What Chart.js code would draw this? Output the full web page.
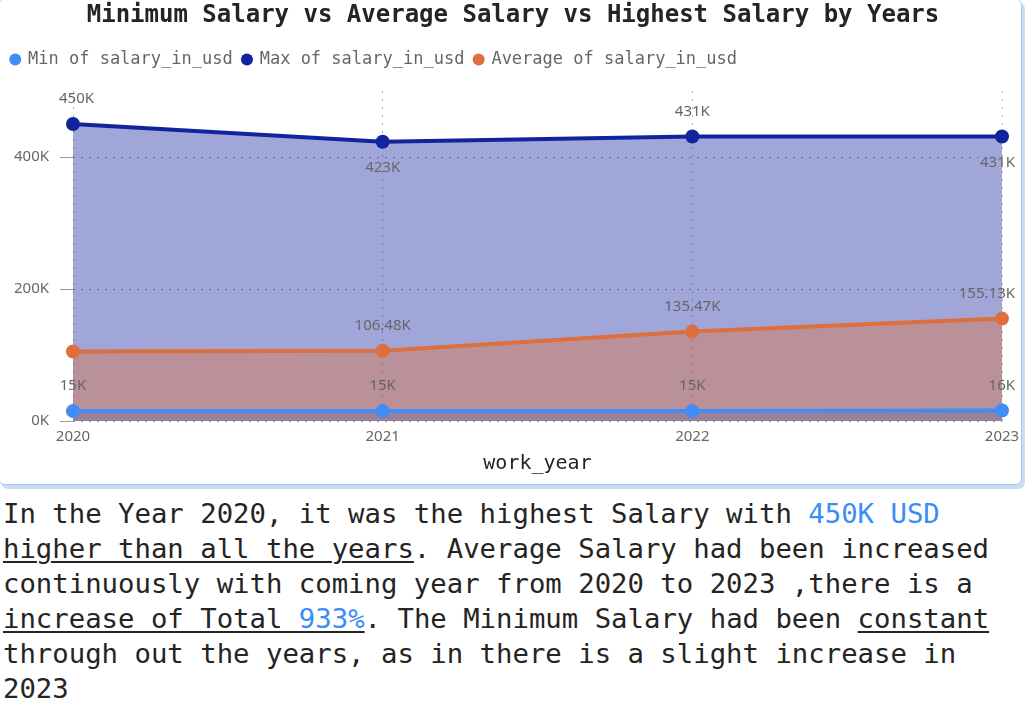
<!DOCTYPE html>
<html>
<head>
<meta charset="utf-8">
<script src="https://cdn.jsdelivr.net/npm/chart.js@4.4.1/dist/chart.umd.min.js"></script>
<style>
    html, body { margin: 0; padding: 0; background: #fff; }
    body { width: 1029px; height: 716px; position: relative; overflow: hidden; }
    #card {
        position: absolute; left: -2px; top: -2px; width: 1024px; height: 487px;
        border: 1px solid #a9c9ef; border-radius: 7px; background: #fff;
        box-shadow: 3px 4px 0 0 #cadcf3; box-sizing: border-box;
    }
    #card canvas { position: absolute; left: 2px; top: 2px; }
    #note {
        position: absolute; left: 3px; top: 496px; margin: 0;
        font-family: "DejaVu Sans Mono", monospace; font-size: 27.3px; line-height: 35px;
        color: #252423; white-space: nowrap;
    }
    #note .hl { color: #3a8cf6; }
    #note u { text-decoration-thickness: 2px; text-underline-offset: 3px; }
</style>
</head>
<body>
<div id="card"><canvas id="js-chartjs-salary" width="1020" height="484"></canvas></div>
<p id="note">In the Year 2020, it was the highest Salary with <span class="hl">450K USD</span><br><u>higher than all the years</u>. Average Salary had been increased<br>continuously with coming year from 2020 to 2023 ,there is a<br><u>increase of Total <span class="hl">933%</span></u>. The Minimum Salary had been <u>constant</u><br>through out the years, as in there is a slight increase in<br>2023</p>
<script>
    const years = ["2020", "2021", "2022", "2023"];
    const minSalary = [15000, 15000, 15000, 16000];
    const maxSalary = [450000, 423000, 431000, 431000];
    const avgSalary = [105400, 106480, 135470, 155130];
    const minLabels = ["15K", "15K", "15K", "16K"];
    const maxLabels = ["450K", "423K", "431K", "431K"];
    const avgLabels = [null, "106.48K", "135.47K", "155.13K"];
    const yTicks = [0, 200000, 400000];
    const chartTitle = "Minimum Salary vs Average Salary vs Highest Salary by Years";

    const mono = "'DejaVu Sans Mono', monospace";
    const sans = "'Noto Sans', 'Open Sans', sans-serif";

    // title centred on the whole card, not on the padded box
    const cardTitle = {
        id: "cardTitle",
        beforeInit(chart) {
            // a bit more room under the legend
            const fit = chart.legend.fit;
            chart.legend.fit = function () {
                fit.call(this);
                this.height += 13;
            };
        },
        afterDraw(chart) {
            const ctx = chart.ctx;
            ctx.save();
            ctx.font = "bold 24px " + mono;
            ctx.fillStyle = "#252423";
            ctx.textAlign = "center";
            ctx.textBaseline = "middle";
            ctx.fillText(chartTitle, 512, 15);
            ctx.restore();
        }
    };

    // labels next to the points, like the original data labels
    const pointLabels = {
        id: "pointLabels",
        afterDatasetsDraw(chart) {
            const ctx = chart.ctx;
            const area = chart.chartArea;
            ctx.save();
            ctx.font = "15px " + sans;
            ctx.fillStyle = "#666";
            ctx.textBaseline = "middle";
            chart.data.datasets.forEach((ds, di) => {
                const meta = chart.getDatasetMeta(di);
                ds.valueLabels.forEach((txt, i) => {
                    if (!txt) return;
                    const pt = meta.data[i];
                    const w = ctx.measureText(txt).width;
                    let x = pt.x - w / 2;
                    x = Math.max(area.left - 14, Math.min(x, area.right + 13 - w));
                    const y = ds.labelPlace[i] === "below" ? pt.y + 26 : pt.y - 25;
                    ctx.fillText(txt, x, y);
                });
            });
            ctx.restore();
        }
    };

    let o = document.getElementById("js-chartjs-salary");
    let n = new Chart(o, {
        type: "line",
        data: {
            labels: years,
            datasets: [{
                label: "Min of salary_in_usd",
                data: minSalary,
                valueLabels: minLabels,
                labelPlace: ["above", "above", "above", "above"],
                borderColor: "#418df7",
                pointBackgroundColor: "#418df7",
                backgroundColor: "rgb(154, 128, 152)",
                fill: "origin",
                order: 0
            }, {
                label: "Max of salary_in_usd",
                data: maxSalary,
                valueLabels: maxLabels,
                labelPlace: ["above", "below", "above", "below"],
                borderColor: "#12239e",
                pointBackgroundColor: "#12239e",
                backgroundColor: "rgba(18, 35, 158, .4)",
                fill: "origin",
                order: 2
            }, {
                label: "Average of salary_in_usd",
                data: avgSalary,
                valueLabels: avgLabels,
                labelPlace: ["above", "above", "above", "above"],
                borderColor: "#dd6f3e",
                pointBackgroundColor: "#dd6f3e",
                backgroundColor: "rgba(224, 110, 60, .4)",
                fill: "origin",
                order: 1
            }]
        },
        options: {
            responsive: false,
            animation: false,
            layout: { padding: { left: 0, right: 19, top: 40, bottom: 9 } },
            elements: {
                line: { borderWidth: 4, tension: 0 },
                point: { radius: 7, hoverRadius: 7, borderWidth: 0 }
            },
            scales: {
                x: {
                    offset: false,
                    border: { display: false, dash: [2, 6] },
                    grid: { color: "#b4b4b4", tickLength: 0, lineWidth: 1 },
                    afterFit: (axis) => { axis.paddingLeft = 0; axis.paddingRight = 0; },
                    ticks: { color: "#666", font: { family: sans, size: 15, lineHeight: 1 }, padding: 8, maxRotation: 0 },
                    title: { display: true, text: "work_year", color: "#252423", font: { family: mono, size: 20 }, padding: { top: 0, bottom: 0 } }
                },
                y: {
                    min: 0,
                    max: 500000,
                    border: { display: false, dash: [2, 6] },
                    grid: { color: "#9a9a9a", tickLength: 13, lineWidth: 1 },
                    afterBuildTicks: (axis) => { axis.ticks = yTicks.map(v => ({ value: v })); },
                    afterFit: (axis) => { axis.width = 72; },
                    ticks: {
                        color: "#666", font: { family: sans, size: 15 }, padding: 11,
                        callback: (v) => (v / 1000) + "K"
                    }
                }
            },
            plugins: {
                title: { display: false },
                legend: {
                    align: "start",
                    labels: {
                        usePointStyle: true,
                        pointStyle: "circle",
                        boxWidth: 8.5,
                        boxHeight: 8.5,
                        padding: 10,
                        color: "#666",
                        font: { family: mono, size: 17 },
                        sort: (a, b) => a.datasetIndex - b.datasetIndex
                    }
                },
                tooltip: { enabled: false }
            }
        },
        plugins: [cardTitle, pointLabels]
    });
</script>
</body>
</html>
